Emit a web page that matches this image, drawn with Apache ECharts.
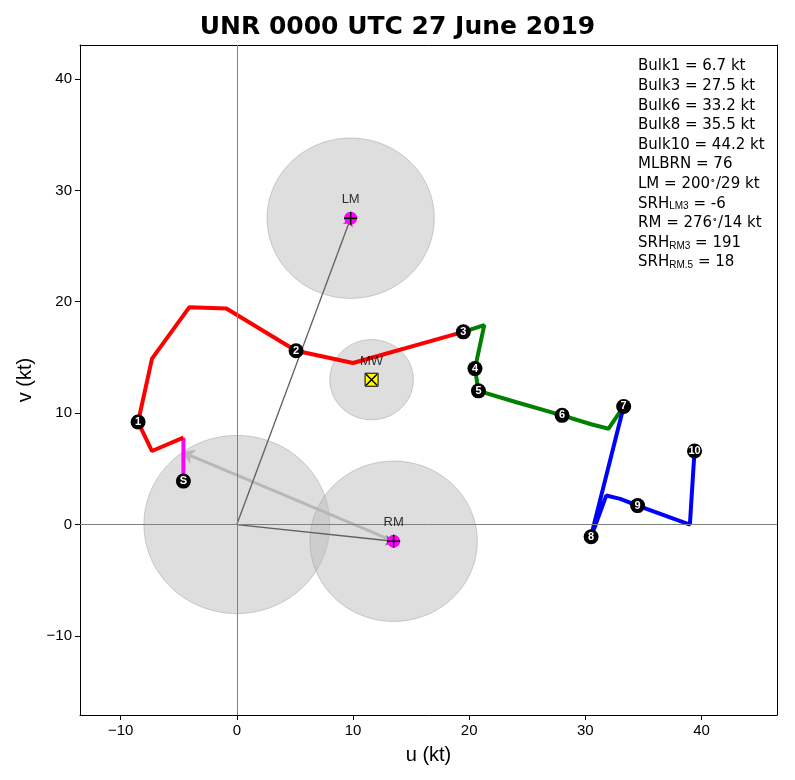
<!DOCTYPE html>
<html><head><meta charset="utf-8">
<script src="https://cdn.jsdelivr.net/npm/echarts@6/dist/echarts.min.js"></script>
<style>html,body{margin:0;padding:0;background:#fff}#c{width:795px;height:780px}</style>
</head><body><div id="c"></div>
<script>
var magentaSeg=[[-4.6,3.9],[-4.6,7.8]];
var redSeg=[[-4.6,7.8],[-7.3,6.6],[-8.5,9.2],[-7.3,14.9],[-4.1,19.5],[-0.9,19.4],[5.1,15.6],[10,14.5],[19.5,17.3]];
var greenSeg=[[19.5,17.3],[21.3,17.9],[20.5,14],[20.8,12],[24,11],[28,9.8],[30.5,9],[32,8.6],[33.3,10.6]];
var blueSeg=[[33.3,10.6],[30.6,-0.6],[30.1,-1.5],[30.5,-1.1],[31.8,2.6],[33,2.3],[34.5,1.7],[39,0],[39.4,6.6]];
var heightLabels=[['1',-8.5,9.2],['2',5.1,15.6],['3',19.5,17.3],['4',20.5,14],['5',20.8,12],['6',28,9.8],['7',33.3,10.6],['8',30.5,-1.1],['9',34.5,1.7],['10',39.4,6.6],['S',-4.6,3.9]];
var circles=[[9.8,27.5,7.2],[11.6,13,3.6],[0,0,8.0],[13.5,-1.5,7.2]];
var LM=[9.8,27.5], MW=[11.6,13], RM=[13.5,-1.5], SRtip=[-4.7,6.5];
var xTicks=[-10,0,10,20,30,40], yTicks=[-10,0,10,20,30,40];
var stats=['Bulk1 = 6.7 kt','Bulk3 = 27.5 kt','Bulk6 = 33.2 kt','Bulk8 = 35.5 kt','Bulk10 = 44.2 kt','MLBRN = 76','LM = 200{s|∘}/29 kt','SRH{sub|LM3} = -6','RM = 276{s|∘}/14 kt','SRH{sub|RM3} = 191','SRH{sub|RM.5} = 18'];

var ch=echarts.init(document.getElementById('c'));
function line(d,c,w){return {type:'line',data:d,symbol:'none',lineStyle:{color:c,width:w},z:3};}
var stGraphics=stats.map(function(t,i){return {type:'text',left:638,top:59+i*19.6,style:{text:t,font:'15px DejaVu Sans',fill:'#000',rich:{sub:{fontSize:10,verticalAlign:'bottom',padding:[6,0,0,0]},s:{fontSize:9,verticalAlign:'top',padding:[0,0,6,0]}}}};});
var ax={fontSize:15,color:'#000',formatter:function(v){return v<0?'−'+(-v):v;}};
var frame={show:true,onZero:false,lineStyle:{color:'#000'}};
ch.setOption({
 animation:false,
 title:{text:'UNR 0000 UTC 27 June 2019',left:'center',top:10,textStyle:{fontSize:25,fontWeight:'bold',color:'#000',fontFamily:'DejaVu Sans'}},
 grid:{left:80,right:18,top:45,bottom:65},
 xAxis:[{type:'value',min:-13.5,max:46.5,name:'u (kt)',nameLocation:'middle',nameGap:30,nameTextStyle:{fontSize:20,color:'#000'},
  axisLine:frame,splitLine:{show:false},
  axisTick:{show:true,customValues:xTicks,length:5,lineStyle:{color:'#000'}},
  axisLabel:Object.assign({customValues:xTicks},ax)},
  {type:'value',position:'top',min:-13.5,max:46.5,axisLine:frame,axisTick:{show:false},axisLabel:{show:false},splitLine:{show:false}}],
 yAxis:[{type:'value',min:-17.1,max:43.05,name:'v (kt)',nameLocation:'middle',nameGap:45,nameTextStyle:{fontSize:20,color:'#000'},
  axisLine:frame,splitLine:{show:false},
  axisTick:{show:true,customValues:yTicks,length:5,lineStyle:{color:'#000'}},
  axisLabel:Object.assign({customValues:yTicks},ax)},
  {type:'value',position:'right',min:-17.1,max:43.05,axisLine:frame,axisTick:{show:false},axisLabel:{show:false},splitLine:{show:false}}],
 graphic:stGraphics,
 series:[
  {type:'custom',data:circles,z:1,renderItem:function(p,api){
    var cx=api.value(0),cy=api.value(1),r=api.value(2),pts=[];
    for(var k=0;k<=72;k++){var a=k/72*2*Math.PI;pts.push(api.coord([cx+r*Math.cos(a),cy+r*Math.sin(a)]));}
    return {type:'polygon',shape:{points:pts},style:{fill:'rgba(190,190,190,0.5)',stroke:'rgba(160,160,160,0.5)',lineWidth:1}};}},
  {type:'line',data:[],markLine:{silent:true,symbol:'none',label:{show:false},lineStyle:{color:'#808080',width:1,type:'solid'},data:[{xAxis:0},{yAxis:0}]},z:2},
  {type:'lines',coordinateSystem:'cartesian2d',z:2,symbol:['none','arrow'],symbolSize:12,
   data:[{coords:[RM,SRtip],lineStyle:{color:'#b8b8b8',width:3,opacity:1}}]},
  line(magentaSeg,'#ff00ff',4),line(redSeg,'#ff0000',4),line(greenSeg,'#008000',4),line(blueSeg,'#0000ff',4),
  {type:'lines',coordinateSystem:'cartesian2d',z:4,symbol:['none','arrow'],symbolSize:8,
   data:[{coords:[[0,0],LM],lineStyle:{color:'#606060',width:1.3,opacity:1}},{coords:[[0,0],RM],lineStyle:{color:'#606060',width:1.3,opacity:1}}]},
  {type:'scatter',data:heightLabels.map(function(h){return {value:[h[1],h[2]],name:h[0]};}),symbolSize:15,itemStyle:{color:'#000',opacity:1},z:6,
   label:{show:true,position:'inside',formatter:'{b}',color:'#fff',fontSize:11,fontWeight:'bold'}},
  {type:'scatter',data:[LM,RM],symbolSize:13,itemStyle:{color:'#ff00ff',opacity:1},z:6},
  {type:'scatter',data:[LM,RM],symbol:'path://M5,0L5,10M0,5L10,5',symbolSize:13,itemStyle:{color:'none',borderColor:'#000',borderWidth:1.5,opacity:1},z:7},
  {type:'scatter',data:[MW],symbol:'rect',symbolSize:13,itemStyle:{color:'#ffff00',borderColor:'#000',borderWidth:1,opacity:1},z:6},
  {type:'scatter',data:[MW],symbol:'path://M0,0L10,10M10,0L0,10',symbolSize:11,itemStyle:{color:'none',borderColor:'#000',borderWidth:1.5,opacity:1},z:7},
  {type:'scatter',data:[{value:LM,name:'LM'},{value:MW,name:'MW'},{value:RM,name:'RM'}],symbolSize:0,z:8,
   label:{show:true,position:'top',distance:12,formatter:'{b}',color:'#000',fontSize:13}}
 ]
});
</script></body></html>
